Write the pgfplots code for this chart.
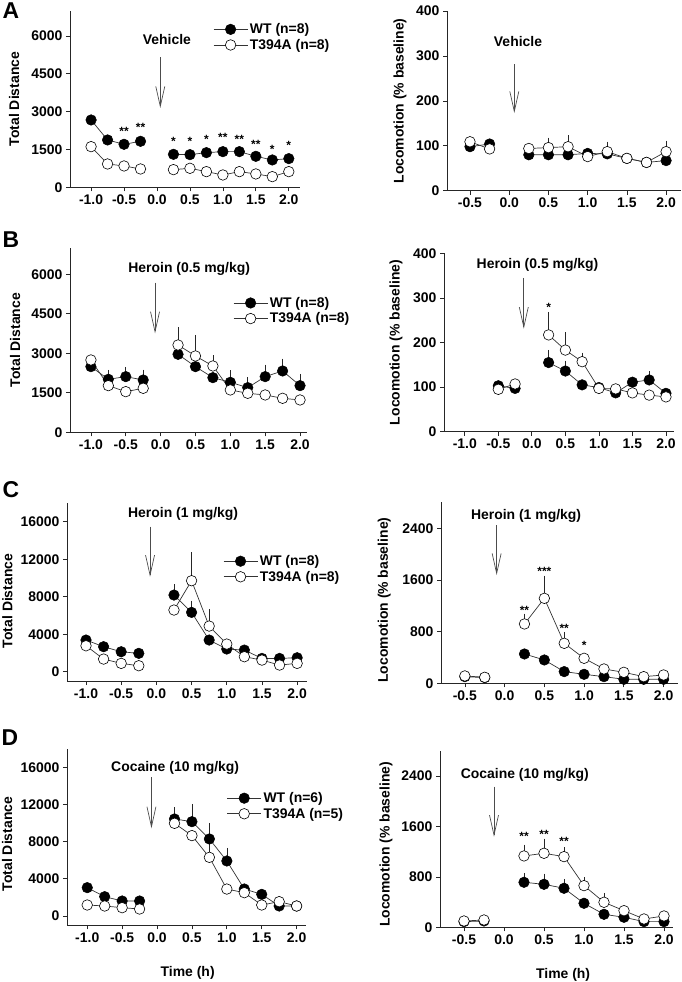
\documentclass[border=0pt]{standalone}
\usepackage{fontspec}
\setmainfont{Liberation Sans}
\usepackage{pgfplots}
\pgfplotsset{compat=1.18}
\usetikzlibrary{arrows.meta}
\newcommand\tkf{\fontsize{14}{16}\selectfont\bfseries}
\newcommand\stf{\fontsize{12}{13}\selectfont\bfseries}
\newcommand\plf{\fontsize{23}{25}\selectfont\bfseries}
\pgfplotsset{
 panel/.style={scale only axis, axis x line*=bottom, axis y line*=left,
   axis line style={-, line width=0.7pt, black!85},
   tick align=outside, major tick length=4bp, scaled y ticks=false,
   every tick/.style={line width=0.7pt, black!85},
   ticklabel style={font=\tkf}, label style={font=\tkf},
   clip=false, unbounded coords=jump,
   xtick={-1,-0.5,0,0.5,1,1.5,2}, xticklabels={-1.0,-0.5,0.0,0.5,1.0,1.5,2.0},
   legend cell align=left,
   legend style={draw=none, fill=none, font=\tkf, anchor=north west, inner sep=0pt, row sep=0bp},
   legend image code/.code={\draw[mark repeat=2,mark phase=2,##1] plot coordinates {(0bp,0bp)(17bp,0bp)(34bp,0bp)};},
 },
 rightx/.style={xtick={-0.5,0,0.5,1,1.5,2}, xticklabels={-0.5,0.0,0.5,1.0,1.5,2.0}},
 wt/.style={line width=0.7pt, black!80, mark=*, mark size=5.3pt, mark options={solid, fill=black, draw=black, line width=0.5pt}},
 ko/.style={line width=0.7pt, black!80, mark=*, mark size=5.3pt, mark options={solid, fill=white, draw=black, line width=0.6pt}},
 eb/.style={forget plot, only marks, mark=none, error bars/.cd, y dir=plus, y explicit,
   error bar style={draw=black!85, line width=0.6pt}, error mark options={draw=black!85, line width=0.6pt, mark size=2pt}},
 st/.style={forget plot, only marks, mark=none, nodes near coords, point meta=explicit symbolic,
   nodes near coords style={font=\stf, anchor=center, inner sep=0pt}},
}
\tikzset{inj/.style={black!70, line width=0.7pt, -{Straight Barb[length=20bp,width=9bp]}}}
\begin{document}
\begin{tikzpicture}
\useasboundingbox (0,0) rectangle (682bp,982bp);
% ---------------- A left
\begin{axis}[panel, at={(70bp,794.7bp)}, anchor=south west, width=230bp, height=176.5bp,
  xmin=-1.32, xmax=2.17, ymin=0, ymax=7000,
  ytick={0,1500,3000,4500,6000}, yticklabels={0,1500,3000,4500,6000},
  ylabel={Total Distance}, ylabel style={at={(axis description cs:-0.243,0.5)}, anchor=center},
  legend style={at={(rel axis cs:0.622,0.94)}}]
\addplot[wt] coordinates {(-1,2670)(-0.75,1877)(-0.5,1705)(-0.25,1824)(0,nan)(0.25,1308)(0.5,1295)(0.75,1374)(1,1414)(1.25,1414)(1.5,1229)(1.75,1084)(2,1137)};
\addplot[ko] coordinates {(-1,1612)(-0.75,925)(-0.5,846)(-0.25,727)(0,nan)(0.25,700)(0.5,753)(0.75,621)(1,489)(1.25,621)(1.5,529)(1.75,423)(2,621)};
\addplot[st] coordinates {(-0.5,2207)[**](-0.25,2379)[**](0.25,1810)[*](0.5,1810)[*](0.75,1903)[*](1,1982)[**](1.25,1916)[**](1.5,1718)[**](1.75,1520)[*](2,1678)[*]};
\legend{WT (n=8),T394A (n=8)}
\node[font=\tkf] at (axis cs:0.15,5880) {Vehicle};
\draw[inj] (axis cs:0.05,5167) -- (axis cs:0.05,3145);
\end{axis}
% ---------------- A right
\begin{axis}[panel, rightx, at={(447bp,791.3bp)}, anchor=south west, width=234bp, height=179.6bp,
  xmin=-0.793, xmax=2.19, ymin=0, ymax=400,
  ytick={0,100,200,300,400}, yticklabels={0,100,200,300,400},
  ylabel={Locomotion (\% baseline)}, ylabel style={at={(axis description cs:-0.201,0.5)}, anchor=center}]
\addplot[eb] coordinates {(0.5,96) +- (0,18) (0.75,98) +- (0,21) (1.25,87) +- (0,18) (2,87) +- (0,20)};
\addplot[wt] coordinates {(-0.5,98)(-0.25,104)(0,nan)(0.25,80)(0.5,80)(0.75,80)(1,83)(1.25,82)(1.5,72)(1.75,63)(2,67)};
\addplot[ko] coordinates {(-0.5,109)(-0.25,93)(0,nan)(0.25,94)(0.5,96)(0.75,98)(1,76)(1.25,87)(1.5,72)(1.75,63)(2,87)};
\node[font=\tkf] at (axis cs:0.112,333) {Vehicle};
\draw[inj] (axis cs:0.065,282) -- (axis cs:0.065,173);
\end{axis}
% ---------------- B left
\begin{axis}[panel, at={(70bp,549.7bp)}, anchor=south west, width=237bp, height=184.3bp,
  xmin=-1.30, xmax=2.10, ymin=0, ymax=7000,
  ytick={0,1500,3000,4500,6000}, yticklabels={0,1500,3000,4500,6000},
  ylabel={Total Distance}, ylabel style={at={(axis description cs:-0.232,0.5)}, anchor=center},
  legend style={at={(rel axis cs:0.688,0.745)}}]
\addplot[eb] coordinates {(-0.75,2013) +- (0,278) (-0.5,2114) +- (0,291) (-0.25,1987) +- (0,317) (1,1899) +- (0,379) (1.25,1696) +- (0,317) (1.5,2114) +- (0,380) (1.75,2329) +- (0,393) (2,1772) +- (0,367)};
\addplot[eb] coordinates {(0.25,3316) +- (0,595) (0.5,2899) +- (0,721) (0.75,2519) +- (0,329)};
\addplot[wt] coordinates {(-1,2494)(-0.75,2013)(-0.5,2114)(-0.25,1987)(0,nan)(0.25,2962)(0.5,2494)(0.75,2076)(1,1899)(1.25,1696)(1.5,2114)(1.75,2329)(2,1772)};
\addplot[ko] coordinates {(-1,2747)(-0.75,1772)(-0.5,1544)(-0.25,1671)(0,nan)(0.25,3316)(0.5,2899)(0.75,2519)(1,1608)(1.25,1481)(1.5,1418)(1.75,1291)(2,1228)};
\legend{WT (n=8),T394A (n=8)}
\node[font=\tkf] at (axis cs:0.41,6190) {Heroin (0.5 mg/kg)};
\draw[inj] (axis cs:-0.08,5682) -- (axis cs:-0.08,3760);
\end{axis}
% ---------------- B right
\begin{axis}[panel, at={(444bp,550.3bp)}, anchor=south west, width=230bp, height=178.4bp,
  xmin=-1.31, xmax=2.12, ymin=0, ymax=400,
  ytick={0,100,200,300,400}, yticklabels={0,100,200,300,400},
  ylabel={Locomotion (\% baseline)}, ylabel style={at={(axis description cs:-0.209,0.5)}, anchor=center}]
\addplot[eb] coordinates {(0.25,155) +- (0,24) (0.5,136) +- (0,19) (1.75,116) +- (0,15)};
\addplot[eb] coordinates {(0.25,217) +- (0,47) (0.5,183) +- (0,35) (0.75,157) +- (0,16)};
\addplot[wt] coordinates {(-0.5,103)(-0.25,97)(0,nan)(0.25,155)(0.5,136)(0.75,105)(1,99)(1.25,87)(1.5,111)(1.75,116)(2,86)};
\addplot[ko] coordinates {(-0.5,95)(-0.25,107)(0,nan)(0.25,217)(0.5,183)(0.75,157)(1,97)(1.25,96)(1.5,87)(1.75,82)(2,78)};
\addplot[st] coordinates {(0.25,278)[*]};
\node[font=\tkf] at (axis cs:0.085,375) {Heroin (0.5 mg/kg)};
\draw[inj] (axis cs:-0.12,345) -- (axis cs:-0.12,231);
\end{axis}
% ---------------- C left
\begin{axis}[panel, at={(67bp,300.9bp)}, anchor=south west, width=240bp, height=178.1bp,
  xmin=-1.27, xmax=2.14, ymin=-1000, ymax=18000,
  ytick={0,4000,8000,12000,16000}, yticklabels={0,4000,8000,12000,16000},
  ylabel={Total Distance}, ylabel style={at={(axis description cs:-0.248,0.45)}, anchor=center},
  legend style={at={(rel axis cs:0.65,0.718)}}]
\addplot[eb] coordinates {(0.25,8180) +- (0,958) (0.5,6330) +- (0,1030)};
\addplot[eb] coordinates {(0.5,9710) +- (0,2806) (0.75,4870) +- (0,1600)};
\addplot[wt] coordinates {(-1,3380)(-0.75,2670)(-0.5,2130)(-0.25,1960)(0,nan)(0.25,8180)(0.5,6330)(0.75,3380)(1,2420)(1.25,2310)(1.5,1420)(1.75,1420)(2,1490)};
\addplot[ko] coordinates {(-1,2770)(-0.75,1350)(-0.5,890)(-0.25,640)(0,nan)(0.25,6580)(0.5,9710)(0.75,4870)(1,2950)(1.25,1600)(1.5,1240)(1.75,710)(2,890)};
\legend{WT (n=8),T394A (n=8)}
\node[font=\tkf] at (axis cs:0.38,16790) {Heroin (1 mg/kg)};
\draw[inj] (axis cs:-0.09,15467) -- (axis cs:-0.09,10133);
\end{axis}
% ---------------- C right
\begin{axis}[panel, rightx, at={(441bp,298.7bp)}, anchor=south west, width=236.9bp, height=180.8bp,
  xmin=-0.80, xmax=2.18, ymin=0, ymax=2800,
  ytick={0,800,1600,2400}, yticklabels={0,800,1600,2400},
  ylabel={Locomotion (\% baseline)}, ylabel style={at={(axis description cs:-0.24,0.46)}, anchor=center}]
\addplot[eb] coordinates {(0.25,919) +- (0,129) (0.5,1316) +- (0,320) (0.75,619) +- (0,145)};
\addplot[wt] coordinates {(-0.5,103)(-0.25,88)(0,nan)(0.25,454)(0.5,361)(0.75,181)(1,139)(1.25,103)(1.5,62)(1.75,62)(2,62)};
\addplot[ko] coordinates {(-0.5,114)(-0.25,93)(0,nan)(0.25,919)(0.5,1316)(0.75,619)(1,387)(1.25,222)(1.5,170)(1.75,103)(2,129)};
\addplot[st] coordinates {(0.25,1135)[**](0.5,1739)[***](0.75,852)[**](1,594)[*]};
\node[font=\tkf] at (axis cs:0.27,2590) {Heroin (1 mg/kg)};
\draw[inj] (axis cs:-0.10,2451) -- (axis cs:-0.10,1677);
\end{axis}
% ---------------- D left
\begin{axis}[panel, at={(67bp,56.7bp)}, anchor=south west, width=239.4bp, height=176.6bp,
  xmin=-1.29, xmax=2.14, ymin=-1000, ymax=18000,
  ytick={0,4000,8000,12000,16000}, yticklabels={0,4000,8000,12000,16000},
  ylabel={Total Distance}, ylabel style={at={(axis description cs:-0.25,0.46)}, anchor=center},
  xlabel={Time (h)}, xlabel style={at={(axis description cs:0.504,-0.267)}, anchor=center},
  legend style={at={(rel axis cs:0.667,0.765)}}]
\addplot[eb] coordinates {(0.25,10440) +- (0,1040) (0.5,10150) +- (0,1690) (0.75,8290) +- (0,1504) (1,5920) +- (0,1183)};
\addplot[eb] coordinates {(0.75,6310) +- (0,1224)};
\addplot[wt] coordinates {(-1,3050)(-0.75,2080)(-0.5,1614)(-0.25,1614)(0,nan)(0.25,10440)(0.5,10150)(0.75,8290)(1,5920)(1.25,2906)(1.5,2330)(1.75,1076)(2,1076)};
\addplot[ko] coordinates {(-1,1184)(-0.75,1076)(-0.5,897)(-0.25,753)(0,nan)(0.25,9970)(0.5,8650)(0.75,6310)(1,2900)(1.25,2510)(1.5,1184)(1.75,1543)(2,1076)};
\legend{WT (n=6),T394A (n=5)}
\node[font=\tkf] at (axis cs:0.26,15957) {Cocaine (10 mg/kg)};
\draw[inj] (axis cs:-0.08,14925) -- (axis cs:-0.08,9436);
\end{axis}
% ---------------- D right
\begin{axis}[panel, rightx, at={(440bp,54.7bp)}, anchor=south west, width=232.8bp, height=176.5bp,
  xmin=-0.80, xmax=2.11, ymin=0, ymax=2800,
  ytick={0,800,1600,2400}, yticklabels={0,800,1600,2400},
  ylabel={Locomotion (\% baseline)}, ylabel style={at={(axis description cs:-0.232,0.47)}, anchor=center},
  xlabel={Time (h)}, xlabel style={at={(axis description cs:0.529,-0.272)}, anchor=center}]
\addplot[eb] coordinates {(0.25,714) +- (0,116) (0.5,682) +- (0,138) (0.75,619) +- (0,116)};
\addplot[eb] coordinates {(0.25,1132) +- (0,148) (0.5,1174) +- (0,201) (0.75,1121) +- (0,116) (1,661) +- (0,100) (1.25,397) +- (0,116)};
\addplot[wt] coordinates {(-0.5,90)(-0.25,100)(0,nan)(0.25,714)(0.5,682)(0.75,619)(1,381)(1.25,206)(1.5,159)(1.75,90)(2,90)};
\addplot[ko] coordinates {(-0.5,100)(-0.25,116)(0,nan)(0.25,1132)(0.5,1174)(0.75,1121)(1,661)(1.25,397)(1.5,264)(1.75,132)(2,180)};
\addplot[st] coordinates {(0.25,1449)[**](0.5,1475)[**](0.75,1369)[**]};
\node[font=\tkf] at (axis cs:0.26,2416) {Cocaine (10 mg/kg)};
\draw[inj] (axis cs:-0.125,2230) -- (axis cs:-0.125,1437);
\end{axis}
% panel letters
\node[font=\plf] at (11bp,971bp) {A};
\node[font=\plf] at (11bp,742bp) {B};
\node[font=\plf] at (11bp,492bp) {C};
\node[font=\plf] at (10bp,244bp) {D};
\end{tikzpicture}
\end{document}
